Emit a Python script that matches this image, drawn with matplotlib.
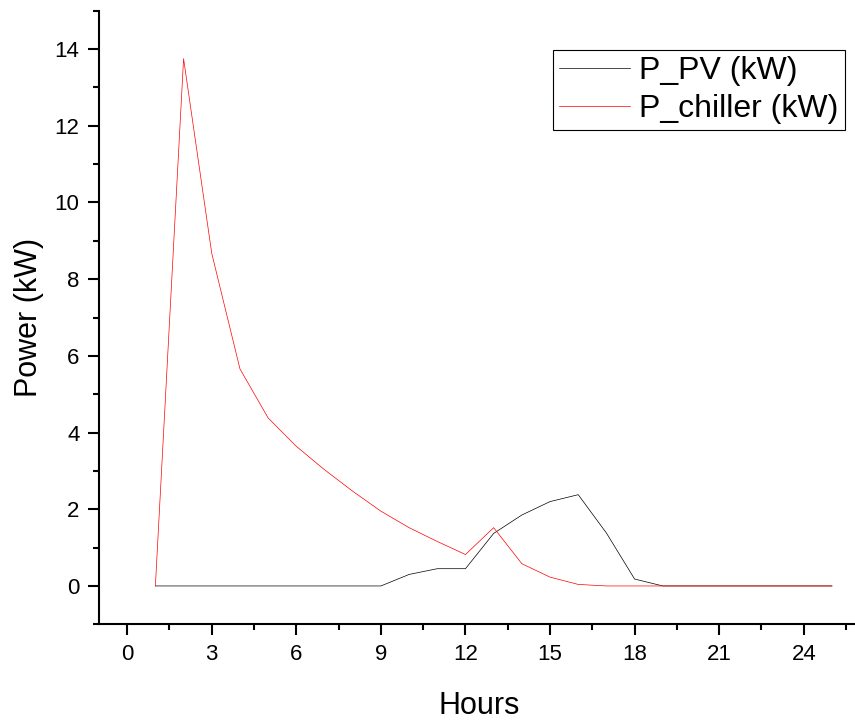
import numpy as np
import matplotlib.pyplot as plt
from matplotlib.ticker import MultipleLocator

# 数据：逐时功率（kW），第 1~25 小时
hours = np.arange(1, 26)
p_pv = [0, 0, 0, 0, 0, 0, 0, 0, 0, 0.30, 0.45, 0.45, 1.37, 1.85, 2.20, 2.38,
        1.38, 0.18, 0, 0, 0, 0, 0, 0, 0]
p_chiller = [0, 13.75, 8.67, 5.66, 4.38, 3.64, 3.03, 2.47, 1.95, 1.52, 1.16,
             0.82, 1.52, 0.58, 0.23, 0.04, 0, 0, 0, 0, 0, 0, 0, 0, 0]
series_labels = ['P_PV (kW)', 'P_chiller (kW)']


def plot_power(save_path: str) -> None:
    """绘制光伏与冷机功率曲线（Origin 风格）"""
    plt.rcParams['font.family'] = ['Liberation Sans', 'DejaVu Sans']

    fig = plt.figure(figsize=(8.55, 7.24), dpi=100)
    ax = fig.add_axes([0.1158, 0.1377, 0.8902, 0.8475])

    ax.plot(hours, p_pv, color='black', linewidth=0.5, label=series_labels[0])
    ax.plot(hours, p_chiller, color='red', linewidth=0.5, label=series_labels[1])

    # 坐标范围与刻度
    ax.set_xlim(-1, 26)
    ax.set_ylim(-1, 15)
    ax.xaxis.set_major_locator(MultipleLocator(3))
    ax.xaxis.set_minor_locator(MultipleLocator(1.5))
    ax.yaxis.set_major_locator(MultipleLocator(2))
    ax.yaxis.set_minor_locator(MultipleLocator(1))
    ax.tick_params(which='major', direction='out', length=8, width=1.5,
                   labelsize=16, pad=6)
    ax.tick_params(which='minor', direction='out', length=4.3, width=1.5)

    # 只保留左、下边框
    for side in ['top', 'right']:
        ax.spines[side].set_visible(False)
    for side in ['left', 'bottom']:
        ax.spines[side].set_linewidth(1.5)
        ax.spines[side].set_color('black')
    ax.spines['bottom'].set_clip_on(False)

    ax.set_xlabel('Hours', fontsize=22, labelpad=19)
    ax.set_ylabel('Power (kW)', fontsize=22, labelpad=8)

    # 图例（直角黑框）
    leg = ax.legend(loc='upper right', bbox_to_anchor=(845 / 855, 1 - 50 / 724),
                    bbox_transform=fig.transFigure, borderaxespad=0,
                    fontsize=23, frameon=True, fancybox=False, shadow=False,
                    edgecolor='black', framealpha=1, handlelength=2.2,
                    handletextpad=0.3, borderpad=0.2, labelspacing=0.24)
    leg.get_frame().set_linewidth(0.8)

    fig.savefig(save_path, dpi=100)
    plt.close(fig)


if __name__ == '__main__':
    plot_power('out.png')
